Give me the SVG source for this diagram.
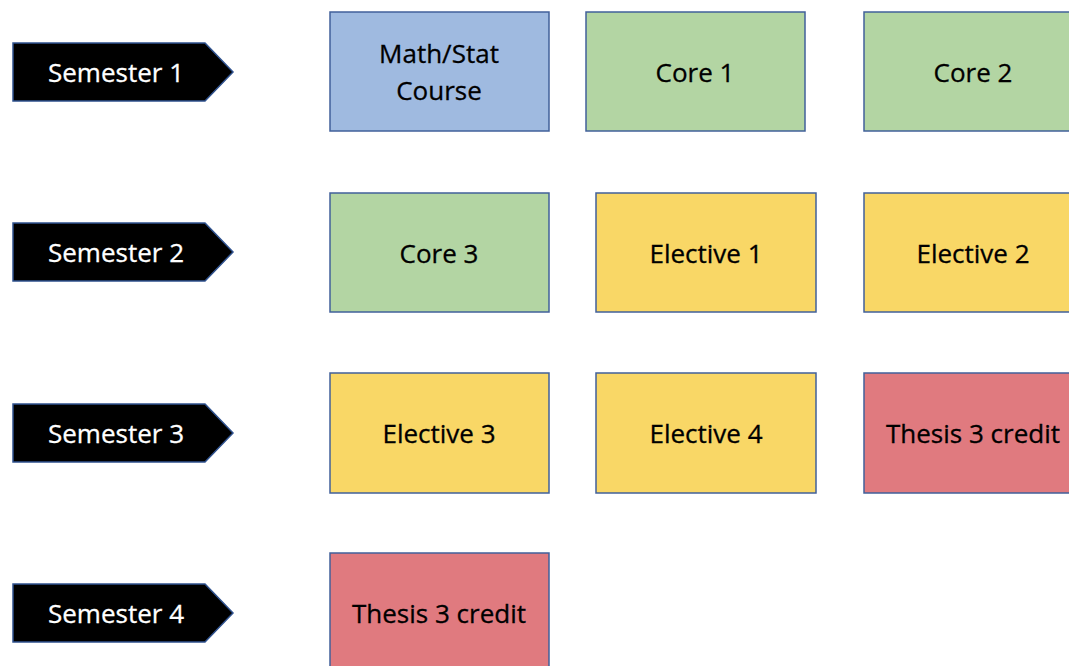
<svg xmlns="http://www.w3.org/2000/svg" width="1069" height="666" viewBox="0 0 1069 666">
<style>
.sem{fill:#000;stroke:#2F528F;stroke-width:1.5}
.st{fill:#fff;stroke:#fff;stroke-width:0.3;font-family:"Open Sans",sans-serif;font-size:26px;text-anchor:middle;dominant-baseline:central}
.bx{stroke:#41609A;stroke-width:1.5}
.blue{fill:#9FBAE0}.green{fill:#B3D5A3}.yellow{fill:#F9D766}.red{fill:#E07A7F}
.t{fill:#000;stroke:#000;stroke-width:0.3;font-family:"Open Sans",sans-serif;font-size:26px;text-anchor:middle;dominant-baseline:central}
</style>
<rect width="1069" height="666" fill="#fff"/>
<g id="sem1"><polygon class="sem" points="13,43 205,43 233,72 205,101 13,101"/><text class="st" x="116" y="72">Semester 1</text></g>
<g id="sem2"><polygon class="sem" points="13,223 205,223 233,252 205,281 13,281"/><text class="st" x="116" y="252">Semester 2</text></g>
<g id="sem3"><polygon class="sem" points="13,404 205,404 233,433 205,462 13,462"/><text class="st" x="116" y="433">Semester 3</text></g>
<g id="sem4"><polygon class="sem" points="13,584 205,584 233,613 205,642 13,642"/><text class="st" x="116" y="613">Semester 4</text></g>
<g id="math"><rect class="bx blue" x="330" y="12" width="219" height="119"/><text class="t" x="439" y="53">Math/Stat</text><text class="t" x="439" y="90">Course</text></g>
<g id="core1"><rect class="bx green" x="586" y="12" width="219" height="119"/><text class="t" x="695" y="72">Core 1</text></g>
<g id="core2"><rect class="bx green" x="864" y="12" width="220" height="119"/><text class="t" x="973" y="72">Core 2</text></g>
<g id="core3"><rect class="bx green" x="330" y="193" width="219" height="119"/><text class="t" x="439" y="253">Core 3</text></g>
<g id="elec1"><rect class="bx yellow" x="596" y="193" width="220" height="119"/><text class="t" x="706" y="253">Elective 1</text></g>
<g id="elec2"><rect class="bx yellow" x="864" y="193" width="220" height="119"/><text class="t" x="973" y="253">Elective 2</text></g>
<g id="elec3"><rect class="bx yellow" x="330" y="373" width="219" height="120"/><text class="t" x="439" y="433">Elective 3</text></g>
<g id="elec4"><rect class="bx yellow" x="596" y="373" width="220" height="120"/><text class="t" x="706" y="433">Elective 4</text></g>
<g id="thesis1"><rect class="bx red" x="864" y="373" width="220" height="120"/><text class="t" x="973" y="433">Thesis 3 credit</text></g>
<g id="thesis2"><rect class="bx red" x="330" y="553" width="219" height="130"/><text class="t" x="439" y="613">Thesis 3 credit</text></g>
<g id="connectors"/>
</svg>
